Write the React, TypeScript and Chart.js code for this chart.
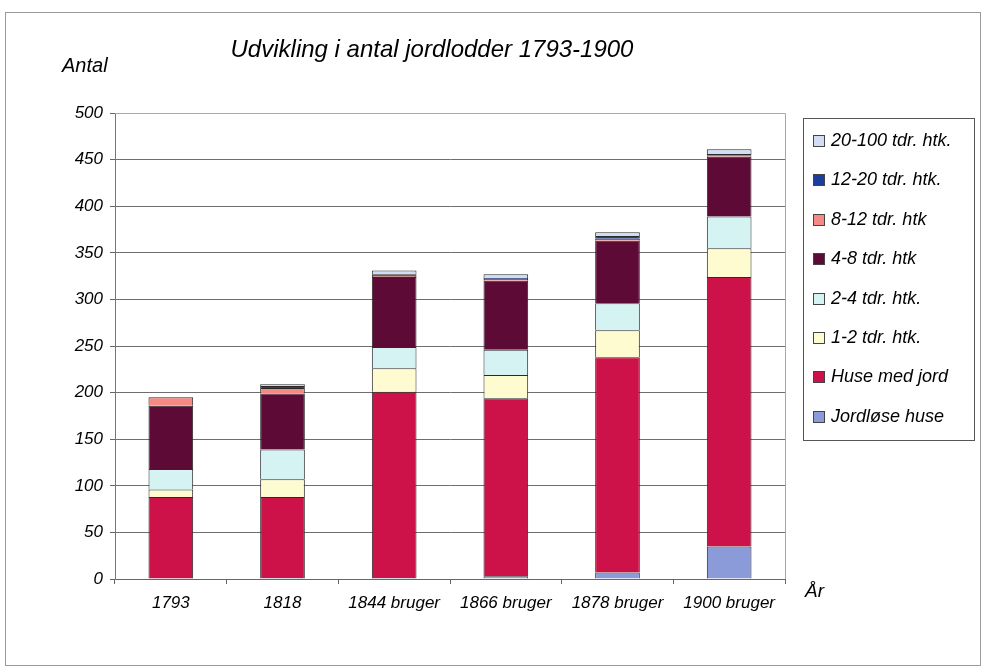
import React, { useEffect, useRef } from "react";
import { Chart, registerables } from "chart.js";

Chart.register(...registerables);

const categories = ["1793", "1818", "1844 bruger", "1866 bruger", "1878 bruger", "1900 bruger"];
const jordloseHuse = [0, 1, 1, 3, 7, 35];
const huseMedJord = [88, 87, 200, 191, 231, 289];
const tdr1til2 = [8, 19, 25, 25, 29, 31];
const tdr2til4 = [22, 32, 23, 27, 29, 34];
const tdr4til8 = [68, 60, 75, 74, 67, 64];
const tdr8til12 = [9, 6, 1, 2, 2, 1];
const tdr12til20 = [0, 2, 2, 1, 3, 2];
const tdr20til100 = [0, 2, 4, 4, 4, 5];
const yTicks = [0, 50, 100, 150, 200, 250, 300, 350, 400, 450, 500];

const FONT = '"Liberation Sans", Arial, sans-serif';

const seriesDefs = [
  { label: "Jordløse huse", data: jordloseHuse, color: "#8b9ad8" },
  { label: "Huse med jord", data: huseMedJord, color: "#cc1248" },
  { label: "1-2 tdr. htk.", data: tdr1til2, color: "#fdfbcf" },
  { label: "2-4 tdr. htk.", data: tdr2til4, color: "#d6f3f3" },
  { label: "4-8 tdr. htk", data: tdr4til8, color: "#5e0a36" },
  { label: "8-12 tdr. htk", data: tdr8til12, color: "#f58a85" },
  { label: "12-20 tdr. htk.", data: tdr12til20, color: "#1a3f9e" },
  { label: "20-100 tdr. htk.", data: tdr20til100, color: "#d2dcf4" },
];

const decorPlugin = {
  id: "decor",
  beforeDraw(chart: any) {
    const ctx = chart.ctx;
    ctx.save();
    ctx.fillStyle = "#ffffff";
    ctx.fillRect(0, 0, chart.width, chart.height);
    ctx.strokeStyle = "#9a9a9a";
    ctx.lineWidth = 1;
    ctx.strokeRect(5.5, 12.5, 975, 653);
    ctx.restore();
  },
  beforeDatasetsDraw(chart: any) {
    const ctx = chart.ctx;
    const a = chart.chartArea;
    ctx.save();
    ctx.strokeStyle = "#a8a8a8";
    ctx.lineWidth = 1;
    ctx.beginPath();
    ctx.moveTo(a.left, Math.round(a.top) + 0.5);
    ctx.lineTo(Math.round(a.right) + 0.5, Math.round(a.top) + 0.5);
    ctx.lineTo(Math.round(a.right) + 0.5, a.bottom);
    ctx.stroke();
    ctx.restore();
  },
  afterDraw(chart: any) {
    const ctx = chart.ctx;
    const a = chart.chartArea;
    ctx.save();
    // Title
    ctx.fillStyle = "#000";
    ctx.font = `italic 24px ${FONT}`;
    ctx.textAlign = "center";
    ctx.textBaseline = "middle";
    ctx.fillText("Udvikling i antal jordlodder 1793-1900", 432, 50);
    // Axis titles
    ctx.font = `italic 20px ${FONT}`;
    ctx.textAlign = "left";
    ctx.fillText("Antal", 62, 66);
    ctx.font = `italic 19px ${FONT}`;
    ctx.fillText("År", a.right + 20, a.bottom + 13);
    // Legend
    const bx = a.right + 18;
    const by = a.top + 5;
    const bw = 171;
    const bh = 322;
    ctx.strokeStyle = "#555";
    ctx.lineWidth = 1;
    ctx.strokeRect(Math.round(bx) + 0.5, Math.round(by) + 0.5, bw, bh);
    const ds = chart.data.datasets;
    ctx.font = `italic 18px ${FONT}`;
    ctx.textBaseline = "middle";
    for (let i = 0; i < ds.length; i++) {
      const d = ds[ds.length - 1 - i];
      const cy = by + 23 + i * 39.4;
      const sx = Math.round(bx + 10) + 0.5;
      const sy = Math.round(cy - 6) + 0.5;
      ctx.fillStyle = d.backgroundColor;
      ctx.fillRect(sx, sy, 11, 11);
      ctx.strokeStyle = "#444";
      ctx.strokeRect(sx, sy, 11, 11);
      ctx.fillStyle = "#000";
      ctx.fillText(d.label, bx + 28, cy);
    }
    ctx.restore();
  },
};

export default function App() {
  const ref = useRef<HTMLCanvasElement | null>(null);
  useEffect(() => {
    document.body.style.margin = "0";
    const canvas = ref.current;
    if (!canvas) return;
    const chart = new Chart(canvas, {
      type: "bar",
      data: {
        labels: categories,
        datasets: seriesDefs.map((s) => ({
          label: s.label,
          data: s.data,
          backgroundColor: s.color,
          borderColor: "#2a2a2a",
          borderWidth: 1,
          barPercentage: 0.4,
          categoryPercentage: 1,
        })),
      },
      options: {
        responsive: false,
        animation: false,
        layout: { padding: { left: 70, top: 113, right: 200, bottom: 50 } },
        plugins: {
          legend: { display: false },
          title: { display: false },
          tooltip: { enabled: false },
        },
        scales: {
          x: {
            stacked: true,
            afterFit: (s: any) => {
              s.height = 40;
            },
            grid: {
              offset: true,
              drawOnChartArea: false,
              drawTicks: true,
              tickLength: 5,
              color: "#666",
            },
            border: { display: true, color: "#666", width: 1 },
            ticks: {
              color: "#000",
              padding: 9,
              font: { family: FONT, size: 17, style: "italic" },
            },
          },
          y: {
            stacked: true,
            min: 0,
            max: 500,
            afterFit: (s: any) => {
              s.width = 45;
            },
            afterBuildTicks: (s: any) => {
              s.ticks = yTicks.map((v) => ({ value: v }));
            },
            grid: {
              color: (c: any) => (c.tick && c.tick.value === 500 ? "rgba(0,0,0,0)" : "#6e6e6e"),
              tickColor: "#666",
              drawTicks: true,
              tickLength: 5,
            },
            border: { display: true, color: "#777", width: 1 },
            ticks: {
              color: "#000",
              padding: 7,
              font: { family: FONT, size: 17, style: "italic" },
            },
          },
        },
      },
      plugins: [decorPlugin],
    });
    return () => chart.destroy();
  }, []);
  return <canvas ref={ref} width={985} height={669} style={{ display: "block" }} />;
}
